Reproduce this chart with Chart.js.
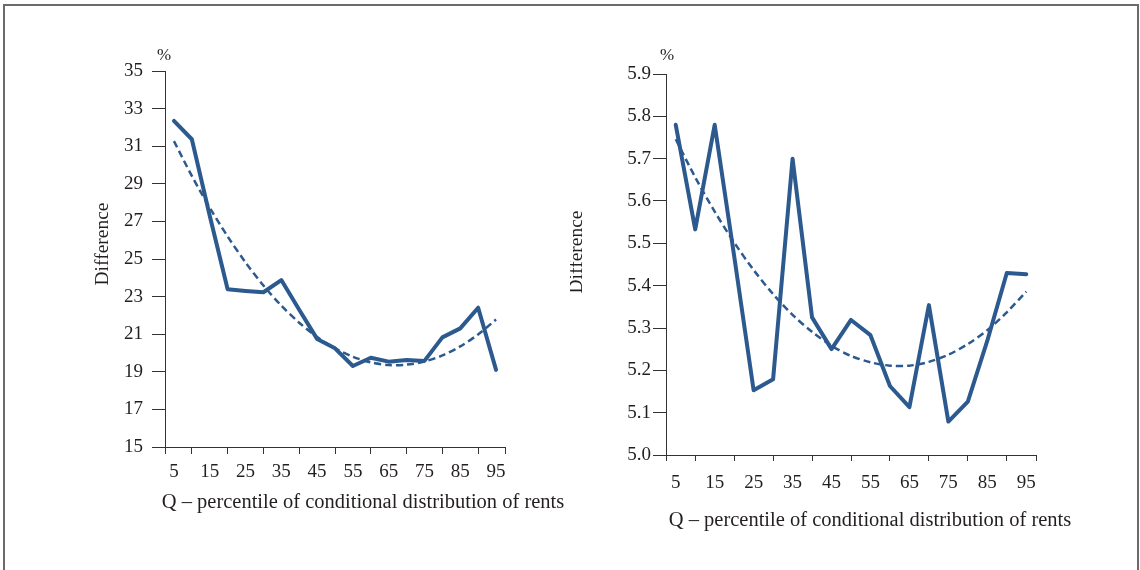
<!DOCTYPE html>
<html>
<head>
<meta charset="utf-8">
<title>Difference by percentile of conditional distribution of rents</title>
<script src="https://cdn.jsdelivr.net/npm/chart.js@4.4.1/dist/chart.umd.min.js"></script>
<style>
  html, body { margin: 0; padding: 0; background: #ffffff; }
  #page { position: relative; width: 1140px; height: 570px; overflow: hidden; }
  #frame {
    position: absolute; left: 3px; top: 4px; width: 1132px; height: 620px;
    border: 2px solid #6b6b6b; border-bottom: none;
  }
  canvas { position: absolute; top: 0; }
  #leftChart { left: 0; }
  #rightChart { left: 570px; }
</style>
</head>
<body>
<div id="page">
  <div id="frame"></div>
  <canvas id="leftChart" width="570" height="570"></canvas>
  <canvas id="rightChart" width="570" height="570"></canvas>
</div>
<script>
// Percentiles of the conditional distribution (x values)
const quantiles = [5, 10, 15, 20, 25, 30, 35, 40, 45, 50, 55, 60, 65, 70, 75, 80, 85, 90, 95];
const xLabelTicks = [5, 15, 25, 35, 45, 55, 65, 75, 85, 95];

// Left panel: difference and its quadratic trend, %
const leftDiff = [32.35, 31.37, 27.3, 23.39, 23.3, 23.23, 23.88, 22.3, 20.75, 20.25, 19.31,
  19.75, 19.54, 19.63, 19.58, 20.83, 21.31, 22.41, 19.1];
const leftTrend = [31.27, 29.42, 27.73, 26.2, 24.82, 23.59, 22.52, 21.61, 20.85, 20.25, 19.8,
  19.5, 19.36, 19.38, 19.55, 19.87, 20.35, 20.99, 21.78];

// Right panel: difference and its quadratic trend, %
const rightDiff = [5.78, 5.533, 5.78, 5.47, 5.153, 5.179, 5.70, 5.325, 5.25, 5.319, 5.283,
  5.163, 5.113, 5.354, 5.079, 5.126, 5.27, 5.43, 5.427];
const rightTrend = [5.746, 5.656, 5.575, 5.502, 5.437, 5.38, 5.331, 5.291, 5.258, 5.234, 5.219,
  5.211, 5.211, 5.22, 5.237, 5.262, 5.295, 5.337, 5.386];

const LINE = '#2c5a8f';
const AXIS = '#333333';
const TEXT = '#231f20';
const FONT = '"Liberation Serif", "DejaVu Serif", serif';

/**
 * Draws the "%" unit, rotated y title and x title at fixed spots
 */
const panelText = {
  id: 'panelText',
  afterDraw(chart, args, opts) {
    const ctx = chart.ctx;
    ctx.save();
    ctx.fillStyle = TEXT;
    ctx.textAlign = 'center';
    ctx.textBaseline = 'middle';
    ctx.font = '17px ' + FONT;
    ctx.fillText('%', opts.unit.x, opts.unit.y);
    ctx.font = '20.5px ' + FONT;
    ctx.fillText('Q \u2013 percentile of conditional distribution of rents', opts.xTitle.x, opts.xTitle.y);
    ctx.font = '19.5px ' + FONT;
    ctx.translate(opts.yTitle.x, opts.yTitle.y);
    ctx.rotate(-Math.PI / 2);
    ctx.fillText('Difference', 0, 0);
    ctx.restore();
  }
};

function toPoints(values) {
  return values.map((v, i) => ({ x: quantiles[i], y: v }));
}

function createPanel(canvas, diff, trend, y, layout) {
  return new Chart(canvas.getContext('2d'), {
    type: 'line',
    data: {
      datasets: [{
        data: toPoints(diff),
        borderColor: LINE,
        borderWidth: 4,
        pointRadius: 0,
        tension: 0,
        borderJoinStyle: 'round',
        borderCapStyle: 'round',
        order: 1
      }, {
        data: toPoints(trend),
        borderColor: LINE,
        borderWidth: 2.5,
        borderDash: [7, 4],
        pointRadius: 0,
        tension: 0.3,
        order: 2
      }]
    },
    options: {
      responsive: false,
      animation: false,
      devicePixelRatio: 1,
      layout: {
        padding: { top: layout.top, right: layout.right, bottom: 0, left: 0 }
      },
      plugins: {
        legend: { display: false },
        tooltip: { enabled: false },
        panelText: layout.text
      },
      scales: {
        x: {
          type: 'linear',
          min: 2.5,
          max: 97.5,
          afterBuildTicks: scale => {
            scale.ticks = [2.5, ...quantiles.filter(q => q % 10 === 0 || xLabelTicks.includes(q)), 97.5]
              .map(v => ({ value: v }));
          },
          afterFit: scale => { scale.height = 570 - layout.bottom; },
          border: { color: AXIS, width: 1 },
          grid: {
            drawOnChartArea: false,
            tickLength: layout.xTick,
            tickWidth: 1,
            tickColor: c => (xLabelTicks.includes(c.tick.value) ? 'rgba(0,0,0,0)' : AXIS)
          },
          ticks: {
            autoSkip: false,
            maxRotation: 0,
            padding: layout.xPad,
            color: TEXT,
            font: { family: FONT, size: 19 },
            callback: v => (xLabelTicks.includes(v) ? String(v) : '')
          }
        },
        y: {
          min: y.min,
          max: y.max,
          afterFit: scale => { scale.width = layout.left; },
          border: { color: AXIS, width: 1 },
          grid: {
            drawOnChartArea: false,
            tickLength: 13,
            tickWidth: 1,
            tickColor: AXIS
          },
          ticks: {
            stepSize: y.step,
            padding: layout.yPad,
            color: TEXT,
            font: { family: FONT, size: 19 },
            callback: v => v.toFixed(y.digits)
          }
        }
      }
    },
    plugins: [panelText]
  });
}

createPanel(document.getElementById('leftChart'), leftDiff, leftTrend,
  { min: 15, max: 35, step: 2, digits: 0 },
  {
    top: 71, right: 65, bottom: 447, left: 165, xTick: 7, xPad: 7, yPad: 9,
    text: { unit: { x: 164, y: 56 }, yTitle: { x: 103, y: 244 }, xTitle: { x: 363, y: 503 } }
  });

createPanel(document.getElementById('rightChart'), rightDiff, rightTrend,
  { min: 5.0, max: 5.9, step: 0.1, digits: 1 },
  {
    top: 74, right: 104, bottom: 455, left: 96, xTick: 6, xPad: 11, yPad: 2,
    text: { unit: { x: 97, y: 56 }, yTitle: { x: 7, y: 252 }, xTitle: { x: 300, y: 521 } }
  });
</script>
</body>
</html>
